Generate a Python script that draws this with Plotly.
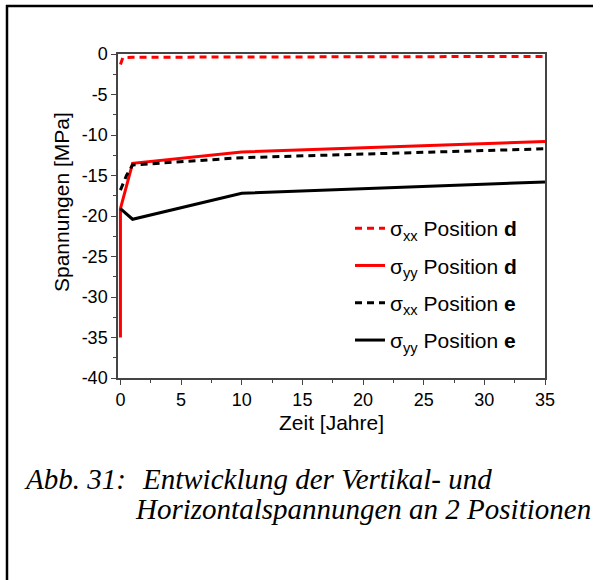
import plotly.graph_objects as go

# Stress development over time at two positions
t_xx_d = [0, 0.2, 1, 10, 35]
s_xx_d = [-1.3, -0.45, -0.4, -0.35, -0.3]

t_yy_d = [0, 0, 1, 10, 35]
s_yy_d = [-35.0, -19.1, -13.5, -12.1, -10.8]

t_xx_e = [0, 0.5, 1, 10, 35]
s_xx_e = [-16.8, -15.0, -13.7, -12.8, -11.7]

t_yy_e = [0, 1, 10, 35]
s_yy_e = [-19.1, -20.4, -17.2, -15.8]

x_ticks = [0, 5, 10, 15, 20, 25, 30, 35]
y_ticks = [0, -5, -10, -15, -20, -25, -30, -35, -40]

names = [
    "σ<sub>xx</sub> Position <b>d</b>",
    "σ<sub>yy</sub> Position <b>d</b>",
    "σ<sub>xx</sub> Position <b>e</b>",
    "σ<sub>yy</sub> Position <b>e</b>",
]

W, H = 605, 580
L, R, T, B = 118, 60, 54, 202
PW, PH = W - L - R, H - T - B


def px(x):
    return (x - L) / PW


def py(y):
    return (H - B - y) / PH


fig = go.Figure()
series = [
    (t_xx_d, s_xx_d, "red", "7px,5px"),
    (t_yy_d, s_yy_d, "red", "solid"),
    (t_xx_e, s_xx_e, "black", "7px,5px"),
    (t_yy_e, s_yy_e, "black", "solid"),
]
for i, (x, y, c, d) in enumerate(series):
    fig.add_trace(go.Scatter(
        x=x, y=y, mode="lines", name=names[i], legendgroup=str(i),
        line=dict(color=c, width=3, dash=d),
    ))

SANS = "Liberation Sans, Arial, sans-serif"
axis_font = dict(family=SANS, size=18, color="black")
fig.update_xaxes(
    range=[-0.2, 35], tickmode="array", tickvals=x_ticks, ticktext=[str(v) for v in x_ticks],
    ticks="outside", ticklen=5, tickcolor="#444", tickwidth=1,
    minor=dict(ticks="outside", ticklen=3, dtick=2.5, tick0=0, tickcolor="#444"),
    showline=True, linecolor="#444", linewidth=1.5, mirror=True,
    showgrid=False, zeroline=False, tickfont=axis_font,
    title=dict(text="Zeit [Jahre]", font=dict(family=SANS, size=21, color="black"), standoff=6),
)
fig.update_yaxes(
    range=[-40, 0], tickmode="array", tickvals=y_ticks, ticktext=[str(v) for v in y_ticks],
    ticks="outside", ticklen=5, tickcolor="#444", tickwidth=1,
    minor=dict(ticks="outside", ticklen=3, dtick=2.5, tick0=0, tickcolor="#444"),
    showline=True, linecolor="#444", linewidth=1.5, mirror=True,
    showgrid=False, zeroline=False, tickfont=axis_font,
)

# y-axis title, placed slightly above the axis centre
fig.add_annotation(text="Spannungen [MPa]", xref="paper", yref="paper", x=px(61), y=py(202),
                   xanchor="center", yanchor="middle", textangle=-90, showarrow=False,
                   font=dict(family=SANS, size=21, color="black"))

# outer frame (top and left edges)
fig.add_shape(type="line", xref="paper", yref="paper", x0=px(6), x1=px(593), y0=py(6), y1=py(6),
              line=dict(color="black", width=2.5))
fig.add_shape(type="line", xref="paper", yref="paper", x0=px(7), x1=px(7), y0=py(5), y1=py(582),
              line=dict(color="black", width=2.5))

cap_font = dict(family="Liberation Serif, Times New Roman, serif", size=29, color="black")
captions = [
    ("<i>Abb. 31:</i>", 22, 490),
    ("<i>Entwicklung der Vertikal- und</i>", 140, 490),
    ("<i>Horizontalspannungen an 2 Positionen</i>", 133, 520),
]
for txt, x0, yb in captions:
    fig.add_annotation(text=txt, xref="paper", yref="paper", x=px(x0), y=py(yb + 7),
                       xanchor="left", yanchor="bottom", showarrow=False, font=cap_font)

fig.update_layout(
    width=W, height=H, margin=dict(l=L, r=R, t=T, b=B),
    paper_bgcolor="white", plot_bgcolor="white",
    showlegend=True,
    legend=dict(x=px(350), y=py(208), xanchor="left", yanchor="top",
                font=dict(family=SANS, size=21, color="black"),
                bgcolor="rgba(0,0,0,0)", tracegroupgap=7, itemwidth=30),
)

fig.write_html("out.html")
